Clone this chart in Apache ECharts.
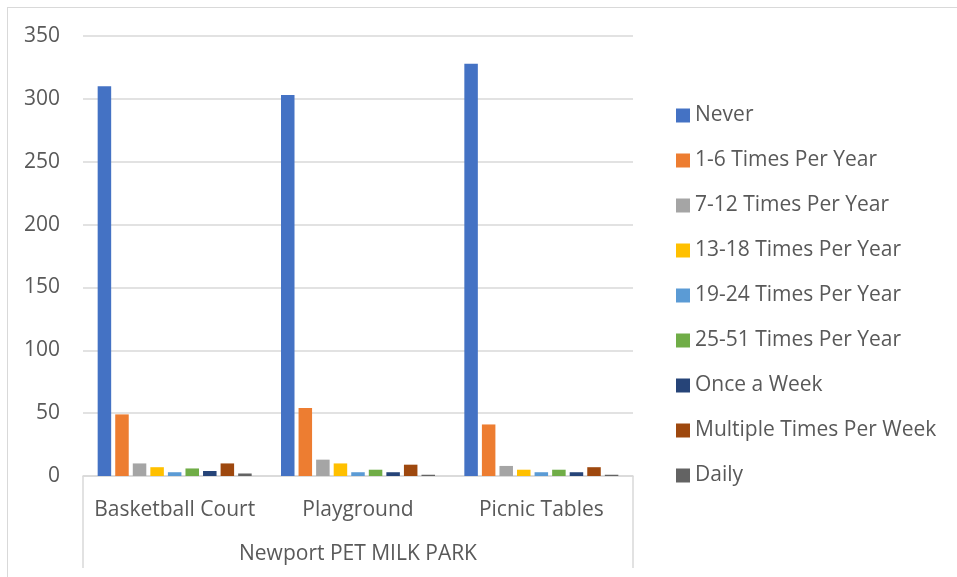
<!DOCTYPE html>
<html>
<head>
<meta charset="utf-8">
<script src="https://cdn.jsdelivr.net/npm/echarts@6/dist/echarts.min.js"></script>
<style>
html,body{margin:0;padding:0;background:#fff;}
#frame{position:absolute;left:7px;top:7px;width:1000px;height:700px;border:1.5px solid #d9d9d9;box-sizing:border-box;}
#chart{position:absolute;left:0;top:0;width:957px;height:577px;}
</style>
</head>
<body>
<div id="frame"></div>
<div id="chart"></div>
<script>
const categories = ['Basketball Court', 'Playground', 'Picnic Tables'];
const groupLabel = ['Newport PET MILK PARK'];
const seriesNames = ['Never', '1-6 Times Per Year', '7-12 Times Per Year', '13-18 Times Per Year',
  '19-24 Times Per Year', '25-51 Times Per Year', 'Once a Week', 'Multiple Times Per Week', 'Daily'];
const never = [310, 303, 328];
const times1to6 = [49, 54, 41];
const times7to12 = [10, 13, 8];
const times13to18 = [7, 10, 5];
const times19to24 = [3, 3, 3];
const times25to51 = [6, 5, 5];
const onceAWeek = [4, 3, 3];
const multiplePerWeek = [10, 9, 7];
const daily = [2, 1, 1];
const colors = ['#4472C4', '#ED7D31', '#A5A5A5', '#FFC000', '#5B9BD5', '#70AD47', '#264478', '#9E480E', '#636363'];

const values = [never, times1to6, times7to12, times13to18, times19to24, times25to51, onceAWeek, multiplePerWeek, daily];
const font = 'Open Sans';
const chart = echarts.init(document.getElementById('chart'));
chart.setOption({
  animation: false,
  color: colors,
  textStyle: { fontFamily: font, color: '#595959' },
  grid: { left: 83, right: 324, top: 36, bottom: 101 },
  legend: {
    orient: 'vertical',
    left: 671,
    top: 100,
    itemWidth: 14,
    itemHeight: 14,
    itemGap: 24,
    icon: 'rect',
    textStyle: { fontFamily: font, fontSize: 21, color: '#595959', lineHeight: 21 },
    data: seriesNames
  },
  xAxis: [
    {
      type: 'category',
      data: categories,
      axisLine: { lineStyle: { color: '#d9d9d9', width: 1.5 } },
      axisTick: { show: false },
      axisLabel: { interval: 0, hideOverlap: false, fontFamily: font, fontSize: 21, color: '#595959', margin: 24 }
    },
    {
      type: 'category',
      data: groupLabel,
      position: 'bottom',
      offset: 92,
      axisLine: { show: false },
      axisTick: { show: true, inside: true, length: 92, lineStyle: { color: '#d9d9d9', width: 1.5 } },
      axisLabel: { inside: true, interval: 0, fontFamily: font, fontSize: 21, color: '#595959', margin: 3 }
    }
  ],
  yAxis: {
    type: 'value',
    min: 0,
    max: 350,
    interval: 50,
    axisLine: { show: false },
    axisTick: { show: false },
    splitLine: { lineStyle: { color: '#d9d9d9', width: 1.5 } },
    axisLabel: { fontFamily: font, fontSize: 21, color: '#595959', margin: 23 }
  },
  series: seriesNames.map((name, i) => ({
    name: name,
    type: 'bar',
    xAxisIndex: 0,
    data: values[i],
    barGap: '30%',
    barCategoryGap: '16%',
    itemStyle: { color: colors[i] }
  }))
});
</script>
</body>
</html>
